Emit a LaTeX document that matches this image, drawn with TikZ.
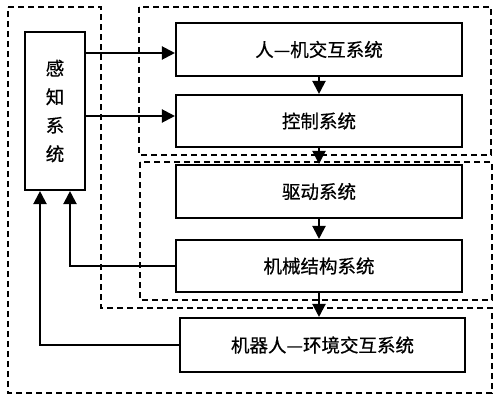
\documentclass[tikz,border=0pt]{standalone}
\usepackage{fontspec}
\setmainfont{Noto Sans CJK SC}[FakeBold=0.6]
\usetikzlibrary{arrows.meta,calc}
\tikzset{
  sysbox/.style={draw,line width=2.1pt,minimum width=286pt,minimum height=53pt,inner sep=0pt,font=\fontsize{18.5}{22}\selectfont},
  arr/.style={line width=2.1pt,-{Triangle[length=13pt,width=13pt]}},
  grp/.style={line width=2pt,dash pattern=on 6pt off 4pt},
}
\begin{document}
\begin{tikzpicture}[x=1pt,y=-1pt]
\useasboundingbox (0,0) rectangle (500,405);
% dashed groups
\draw[grp] (8,7) -- (101,7) -- (101,308) -- (492,308) -- (492,393) -- (8,393) -- cycle;
\draw[grp] (139,7) rectangle (491,155);
\draw[grp] (140,162) rectangle (492,300);
% boxes
\node[sysbox,minimum width=60pt,minimum height=158pt,align=center,font=\fontsize{18.5}{28.5}\selectfont] (gz) at (55,111) {感\\知\\系\\统};
\node[sysbox] (rj) at (319,49.5) {人—机交互系统};
\node[sysbox,minimum height=52pt] (kz) at (319,121) {控制系统};
\node[sysbox] (qd) at (319,191.5) {驱动系统};
\node[sysbox,minimum height=52pt] (jx) at (319,266) {机械结构系统};
\node[sysbox,minimum width=285pt,minimum height=54pt] (jq) at (322.5,345) {机器人—环境交互系统};
% arrows
\draw[arr] (gz.east |- 0,53) -- (rj.west |- 0,53);
\draw[arr] (gz.east |- 0,116) -- (kz.west |- 0,116);
\draw[arr] (rj.south) -- (kz.north);
\draw[arr] (kz.south) -- (qd.north);
\draw[arr] (qd.south) -- (jx.north);
\draw[arr] (jx.south) -- (jx.south |- jq.north);
\draw[arr] (jx.west) -| ([xshift=15pt]gz.south);
\draw[arr] (jq.west) -| ([xshift=-15pt]gz.south);
\end{tikzpicture}
\end{document}
